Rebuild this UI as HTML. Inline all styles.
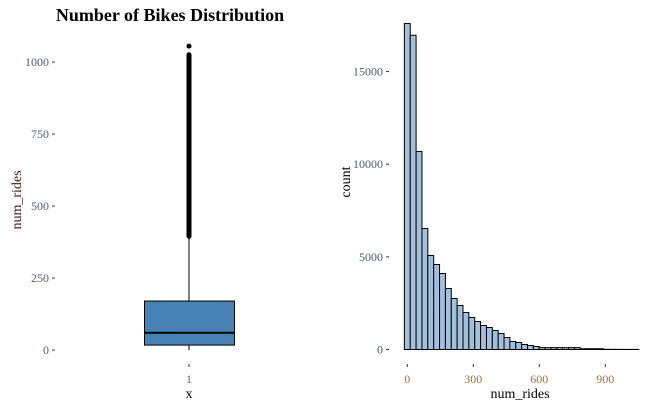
<!DOCTYPE html>
<html><head><meta charset="utf-8"><style>
body{margin:0;background:#fff;}
svg{display:block;font-family:"Liberation Serif",serif;}
</style></head><body>
<svg width="661" height="408" viewBox="0 0 661 408">
<text x="170" y="21" font-size="18" font-weight="bold" text-anchor="middle" fill="#000">Number of Bikes Distribution</text>
<g id="box"></g>
<g id="hist"></g>
</svg>
<script>
const boxTicks=[0,250,500,750,1000];
const boxStats=[17,60,170,395];  // q1, median, q3, whisker top
const outlierRange=[395,1025];
const outlierMax=[1055];
const histTicksY=[0,5000,10000,15000];
const histTicksX=[0,300,600,900];
const binStart=-13.3, binWidth=26.65;
const counts=[17590,16960,10685,6530,5073,4587,4101,3292,2752,2374,1997,1727,1511,1295,1187,1025,863,648,432,378,270,216,162,100,100,100,100,100,100,100,40,40,40,40,10,8,6,5,5,5];
const NS="http://www.w3.org/2000/svg";
function mk(t,a,p){const e=document.createElementNS(NS,t);for(const k in a)e.setAttribute(k,a[k]);p.appendChild(e);return e;}
// boxplot
const bp=document.getElementById('box');
const by=v=>350-v*0.288;
boxTicks.forEach(t=>{
 const l=mk('line',{x1:52,x2:55,y1:by(t),y2:by(t),stroke:'#333'},bp);
 
 const tx=mk('text',{x:49,y:by(t)+4,'font-size':12,'text-anchor':'end',fill:'#4d5a6a'},bp);
 tx.textContent=t;
});
const yt=mk('text',{x:21,y:200,'font-size':14,'text-anchor':'middle',fill:'#4a1010',transform:'rotate(-90 21 200)'},bp);
yt.textContent='num_rides';
const wl=mk('line',{x1:189,x2:189,y1:by(boxStats[2]),y2:by(boxStats[3]),stroke:'#000'},bp);

const wl2=mk('line',{x1:189,x2:189,y1:by(0),y2:by(boxStats[0]),stroke:'#000'},bp);

const ol=mk('line',{x1:189,x2:189,y1:by(outlierRange[0]),y2:by(outlierRange[1]),stroke:'#000','stroke-width':5,'stroke-linecap':'round'},bp);

const oc=mk('circle',{cx:189,cy:by(outlierMax[0]),r:2.5,fill:'#000'},bp);

const br=mk('rect',{x:144.5,width:90,y:by(boxStats[2]),height:by(boxStats[0])-by(boxStats[2]),fill:'#4682b4',stroke:'#000','stroke-width':1},bp);

const md=mk('line',{x1:144.5,x2:234.5,y1:by(boxStats[1]),y2:by(boxStats[1]),stroke:'#000','stroke-width':2},bp);

const xtk=mk('line',{x1:189,x2:189,y1:364,y2:367,stroke:'#333'},bp);

const xl=mk('text',{x:189,y:383,'font-size':12,'text-anchor':'middle',fill:'#7a6040'},bp);
xl.textContent='1';
const xtt=mk('text',{x:189,y:398,'font-size':14,'text-anchor':'middle',fill:'#000'},bp);
xtt.textContent='x';
// histogram
const hp=document.getElementById('hist');
const hx=v=>407.3+v*(66/300);
const hy=v=>349.5-v*0.01853;
histTicksY.forEach(t=>{
 const l=mk('line',{x1:386,x2:389,y1:hy(t),y2:hy(t),stroke:'#333'},hp);
 
 const tx=mk('text',{x:383,y:hy(t)+4,'font-size':12,'text-anchor':'end',fill:'#4d5a6a'},hp);
 tx.textContent=t;
});
const cy=mk('text',{x:350,y:182,'font-size':14,'text-anchor':'middle',fill:'#000',transform:'rotate(-90 350 182)'},hp);
cy.textContent='count';
counts.forEach((c,i)=>{
 const x0=hx(binStart+i*binWidth),x1=hx(binStart+(i+1)*binWidth);
 const r=mk('rect',{x:x0,y:hy(c),width:x1-x0,height:hy(0)-hy(c),fill:'#a2bfdb',stroke:'#000','stroke-width':1},hp);
 
});
const base=mk('line',{x1:hx(binStart),x2:hx(binStart+counts.length*binWidth),y1:hy(0),y2:hy(0),stroke:'#000'},hp);

histTicksX.forEach(t=>{
 const l=mk('line',{x1:hx(t),x2:hx(t),y1:364,y2:367,stroke:'#333'},hp);
 
 const tx=mk('text',{x:hx(t),y:383,'font-size':12,'text-anchor':'middle',fill:'#a0703a'},hp);
 tx.textContent=t;
});
const hxt=mk('text',{x:520,y:398,'font-size':14,'text-anchor':'middle',fill:'#000'},hp);
hxt.textContent='num_rides';
</script>
</body></html>
